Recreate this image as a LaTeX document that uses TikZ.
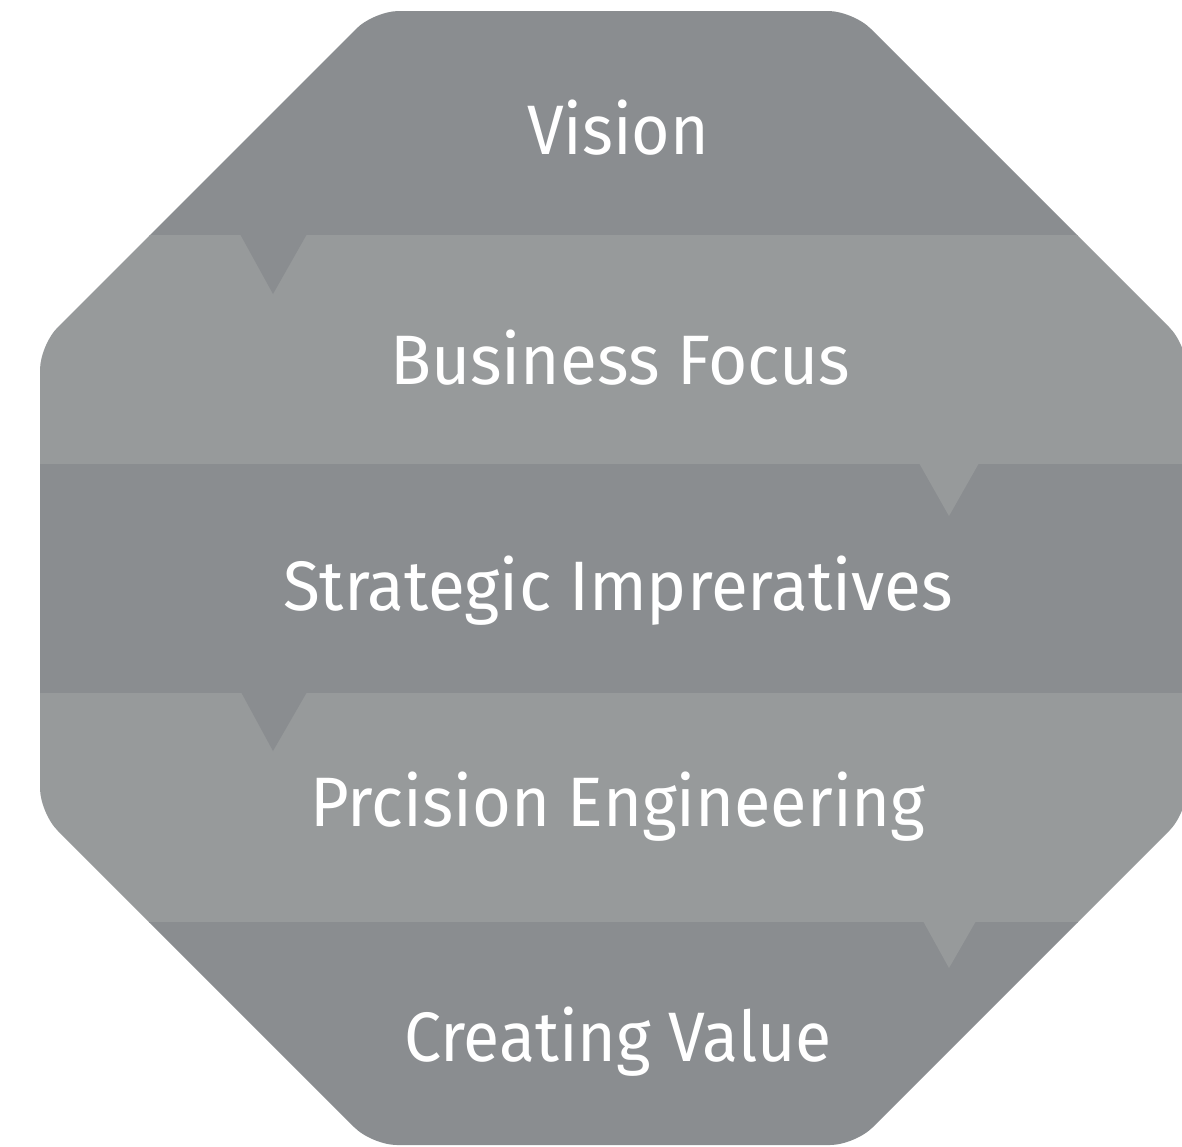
\documentclass[tikz,border=0pt]{standalone}
\usepackage{fontspec}
\setmainfont{Fira Sans}
\usepackage{graphicx}
\definecolor{bandD}{HTML}{8A8D90}
\definecolor{bandL}{HTML}{979A9B}
\newlength\fitlen
\newcommand\fitto[2]{\settowidth{\fitlen}{\fontsize{70}{84}\selectfont #2}\pgfmathsetmacro\fitratio{#1/\fitlen}\scalebox{\fitratio}[1]{\fontsize{70}{84}\selectfont #2}}
\tikzset{
  lbl/.style={text=white, anchor=base, inner sep=0pt},
}
\begin{document}
\begin{tikzpicture}[x=1pt,y=-1pt]
\useasboundingbox (0,0) rectangle (1182,1146);
\begin{scope}
\clip[rounded corners=25pt] (374,11) -- (853,11) -- (1187,345) -- (1187,813) -- (855,1145) -- (372,1145) -- (40,813) -- (40,345) -- cycle;
\fill[bandD] (0,0) rectangle (1200,236);
\fill[bandL] (0,235) rectangle (1200,465);
\fill[bandD] (240,234) -- (307,234) -- (273,294) -- cycle;
\fill[bandD] (0,464) rectangle (1200,694);
\fill[bandL] (919,463) -- (979,463) -- (949,516) -- cycle;
\fill[bandL] (0,693) rectangle (1200,923);
\fill[bandD] (241,692) -- (307,692) -- (273,751) -- cycle;
\fill[bandD] (0,922) rectangle (1200,1150);
\fill[bandL] (923,921) -- (976,921) -- (949,968) -- cycle;
\end{scope}
\node[lbl] (vision) at (618,154) {\fitto{182}{Vision}};
\node[lbl] (business) at (620,384) {\fitto{460}{Business Focus}};
\node[lbl] (strategic) at (618,610) {\fitto{670}{Strategic Impreratives}};
\node[lbl] (precision) at (618,826) {\fitto{615}{Prcision Engineering}};
\node[lbl] (value) at (618,1061) {\fitto{428}{Creating Value}};
\end{tikzpicture}
\end{document}
